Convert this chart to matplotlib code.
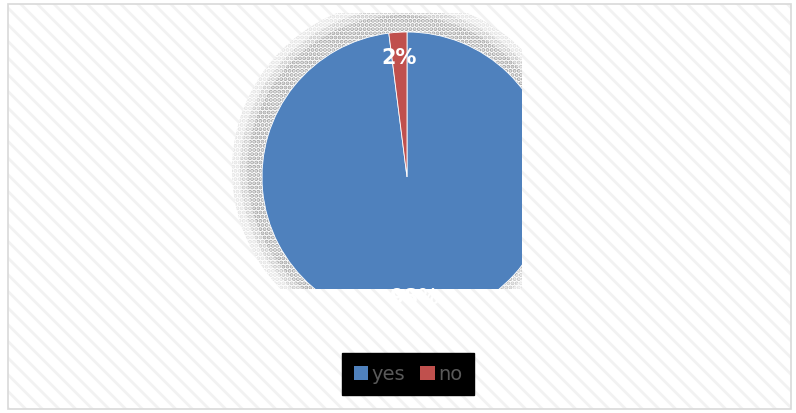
import matplotlib
matplotlib.use("Agg")
import matplotlib.pyplot as plt
from matplotlib.patches import Rectangle, Circle

labels = ["yes", "no"]
shares = [98, 2]
colors = ["#4F81BD", "#C0504D"]

W, H = 796, 414
fig = plt.figure(figsize=(W / 100, H / 100), dpi=100)
fig.patch.set_facecolor("white")

plt.rcParams["hatch.linewidth"] = 2.0

# chart background: light diagonal stripes with a thin grey frame
bg_ax = fig.add_axes([0, 0, 1, 1])
bg_ax.set_xlim(0, W)
bg_ax.set_ylim(0, H)
bg_ax.axis("off")
bg_ax.add_patch(Rectangle((8, 4), 783, 405, facecolor="white",
                          edgecolor="#f2f2f2", hatch="\\\\", linewidth=0))
bg_ax.add_patch(Rectangle((8, 4), 783, 405, facecolor="none",
                          edgecolor="#d9d9d9", linewidth=1.2))

# plot area (pixel coordinates, y measured upward); content is clipped to it
px0, px1, py0, py1 = 228, 522, 124, 400
ax = fig.add_axes([px0 / W, py0 / H, (px1 - px0) / W, (py1 - py0) / H])
ax.set_facecolor("none")

cx, cy, r = 407, H - 178, 145

# soft stippled shadow behind the pie
for rad, col in [(170, "#e2e2e2"), (162, "#c6c6c6"), (155, "#a4a4a4")]:
    ax.add_patch(Circle((cx - 5, cy + 7), rad, facecolor="white",
                        edgecolor=col, hatch="....", linewidth=0, zorder=1))

wedges, texts, autotexts = ax.pie(
    shares, colors=colors, startangle=90, counterclock=False,
    center=(cx, cy), radius=r, autopct="%1.0f%%", pctdistance=0.83,
    wedgeprops=dict(linewidth=0.6, edgecolor="white"),
    textprops=dict(color="white", fontsize=15, fontweight="bold"),
    frame=True,
)
for w in wedges:
    w.set_zorder(3)
    w.set_clip_on(True)
for t in autotexts:
    t.set_zorder(4)
    t.set_clip_on(False)
ax.set_xlim(px0, px1)
ax.set_ylim(py0, py1)
ax.set_aspect("auto")
ax.axis("off")

leg = bg_ax.legend(
    wedges, labels, loc="center", bbox_to_anchor=(408 / W, 1 - 375 / H),
    bbox_transform=fig.transFigure, ncol=2, frameon=True, fancybox=False,
    facecolor="black", edgecolor="black", framealpha=1,
    labelcolor="#595959", handlelength=0.75, handleheight=0.75,
    handletextpad=0.15, columnspacing=0.8, borderpad=0.6,
    prop=dict(family=["Liberation Sans Narrow", "DejaVu Sans"], size=14),
)
for h in leg.legend_handles:
    h.set_edgecolor("none")

fig.savefig("out.png", dpi=100, facecolor="white")
